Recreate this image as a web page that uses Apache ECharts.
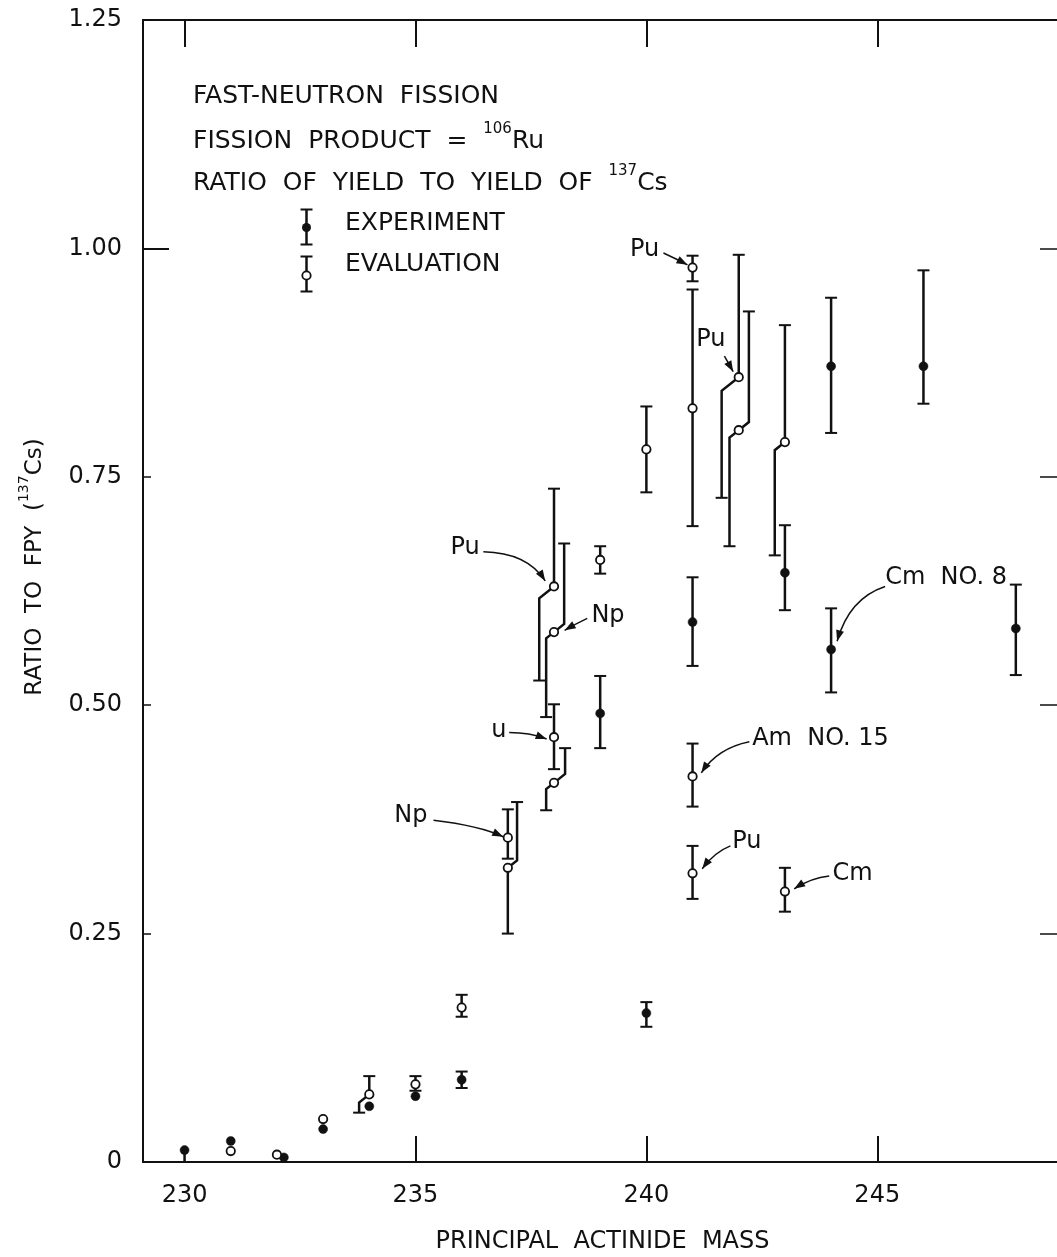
<!DOCTYPE html>
<html>
<head>
<meta charset="utf-8">
<script src="https://cdn.jsdelivr.net/npm/echarts@6/dist/echarts.min.js"></script>
<style>
  html, body { margin: 0; padding: 0; background: #fff; }
  #chart { width: 1057px; height: 1257px; }
</style>
</head>
<body>
<div id="chart"></div>
<script>
// experiment (filled dots)
const expMass  = [230, 231, 232.15, 233, 234, 235, 236, 239, 240, 241, 243, 244, 244, 246, 248];
const expValue = [0.013, 0.023, 0.005, 0.036, 0.061, 0.072, 0.090, 0.491, 0.163, 0.591, 0.645, 0.871, 0.561, 0.871, 0.584];
const expLow   = [0, null, null, null, null, null, 0.081, 0.453, 0.148, 0.543, 0.604, 0.798, 0.514, 0.830, 0.533];
const expHigh  = [null, null, null, null, null, null, 0.099, 0.532, 0.175, 0.640, 0.697, 0.946, 0.606, 0.976, 0.632];

// evaluation (open dots); shifts = sideways displacement of the bar ends, in mass units
const evalMass  = [231, 232, 233, 234, 235, 236, 237, 237, 238, 238, 238, 238, 239, 240, 241, 241, 241, 241, 242, 242, 243, 243];
const evalValue = [0.012, 0.008, 0.047, 0.074, 0.085, 0.169, 0.355, 0.322, 0.630, 0.580, 0.465, 0.415, 0.659, 0.780, 0.979, 0.825, 0.422, 0.316, 0.859, 0.801, 0.788, 0.296];
const evalLow   = [null, null, null, 0.054, 0.078, 0.159, 0.332, 0.250, 0.527, 0.487, 0.430, 0.385, 0.644, 0.733, 0.964, 0.696, 0.389, 0.288, 0.727, 0.674, 0.664, 0.274];
const evalHigh  = [null, null, null, 0.094, 0.094, 0.183, 0.386, 0.394, 0.737, 0.677, 0.501, 0.453, 0.674, 0.827, 0.992, 0.955, 0.458, 0.346, 0.993, 0.931, 0.916, 0.322];
const evalShiftLow  = [0, 0, 0, -0.22, 0, 0, 0, 0, -0.32, -0.17, 0, -0.17, 0, 0, 0, 0, 0, 0, -0.37, -0.2, -0.22, 0];
const evalShiftHigh = [0, 0, 0, 0, 0, 0, 0, 0.2, 0, 0.22, 0, 0.24, 0, 0, 0, 0, 0, 0, 0, 0.22, 0, 0];

const xTicks = [230, 235, 240, 245];

// nuclide labels with arrows: text anchor, arrow start, bend point, arrow tip (mass, ratio)
const notes = [
  {text: 'Pu', align: 'right', at: [240.28, 0.999], from: [240.37, 0.995], ctrl: [240.63, 0.989], to: [240.89, 0.982]},
  {text: 'Pu', align: 'left', at: [241.08, 0.900], from: [241.69, 0.882], ctrl: [241.78, 0.874], to: [241.88, 0.865]},
  {text: 'Pu', align: 'right', at: [236.39, 0.672], from: [236.47, 0.668], ctrl: [237.42, 0.667], to: [237.81, 0.636]},
  {text: 'Np', align: 'left', at: [238.81, 0.598], from: [238.72, 0.595], ctrl: [238.47, 0.589], to: [238.23, 0.582]},
  {text: 'u', align: 'right', at: [236.97, 0.472], from: [237.03, 0.470], ctrl: [237.47, 0.470], to: [237.84, 0.463]},
  {text: 'Np', align: 'right', at: [235.26, 0.379], from: [235.39, 0.374], ctrl: [236.39, 0.368], to: [236.90, 0.356]},
  {text: 'Cm  NO. 8', align: 'left', at: [245.17, 0.640], from: [245.17, 0.630], ctrl: [244.39, 0.617], to: [244.13, 0.570]},
  {text: 'Am  NO. 15', align: 'left', at: [242.29, 0.463], from: [242.23, 0.460], ctrl: [241.54, 0.453], to: [241.19, 0.426]},
  {text: 'Pu', align: 'left', at: [241.86, 0.350], from: [241.82, 0.346], ctrl: [241.47, 0.339], to: [241.21, 0.321]},
  {text: 'Cm', align: 'left', at: [244.03, 0.315], from: [243.96, 0.313], ctrl: [243.57, 0.311], to: [243.20, 0.299]}
];

const FONT = 'DejaVu Sans';
const INK = '#111';

function pick(a, i, v) { return a[i] == null ? v : a[i]; }

const expData = expMass.map((m, i) => [m, expValue[i], pick(expLow, i, expValue[i]), pick(expHigh, i, expValue[i]), 0, 0]);
const evalData = evalMass.map((m, i) => [m, evalValue[i], pick(evalLow, i, evalValue[i]), pick(evalHigh, i, evalValue[i]), evalShiftLow[i], evalShiftHigh[i]]);

function makeRender(filled) {
  return function (params, api) {
    const m = api.value(0), v = api.value(1), lo = api.value(2), hi = api.value(3);
    const sl = api.value(4), sh = api.value(5);
    const pc = api.coord([m, v]);
    const children = [];
    function bar(end, shift, dir) {
      if (end === v) return;
      const pe = api.coord([m + shift, end]);
      const dx = pe[0] - pc[0];
      const pts = [pc];
      if (Math.abs(dx) > 0.5) pts.push([pe[0], pc[1] + dir * Math.abs(dx) * 0.8]);
      pts.push(pe);
      children.push({type: 'polyline', shape: {points: pts}, style: {stroke: INK, lineWidth: 2.5, fill: null}});
      children.push({type: 'line', shape: {x1: pe[0] - 6, y1: pe[1], x2: pe[0] + 6, y2: pe[1]}, style: {stroke: INK, lineWidth: 2}});
    }
    bar(hi, sh, -1);
    bar(lo, sl, 1);
    children.push({
      type: 'circle',
      shape: {cx: pc[0], cy: pc[1], r: filled ? 4.5 : 4.2},
      style: {fill: filled ? INK : '#fff', stroke: INK, lineWidth: filled ? 0.5 : 1.8}
    });
    return {type: 'group', children: children};
  };
}

const chart = echarts.init(document.getElementById('chart'), null, {renderer: 'canvas'});

const axisLine = {show: true, onZero: false, lineStyle: {color: INK, width: 2}};
const labelStyle = {color: INK, fontFamily: FONT, fontSize: 24};
const supRich = {
  a: {fontFamily: FONT, fontSize: 25, lineHeight: 32, verticalAlign: 'bottom', fill: INK},
  s: {fontFamily: FONT, fontSize: 15, lineHeight: 32, verticalAlign: 'top', fill: INK}
};

const option = {
  animation: false,
  backgroundColor: '#fff',
  grid: {left: 143, right: -5, top: 20, bottom: 95, outerBoundsMode: 'none'},
  xAxis: [
    {
      type: 'value', min: 229.1, max: 249, position: 'bottom',
      axisLine: axisLine,
      axisTick: {show: true, inside: true, length: 26, customValues: [235, 240, 245], lineStyle: {color: INK, width: 2}},
      axisLabel: Object.assign({customValues: xTicks, margin: 22}, labelStyle),
      splitLine: {show: false},
      name: 'PRINCIPAL  ACTINIDE  MASS', nameLocation: 'middle', nameGap: 68,
      nameTextStyle: {color: INK, fontFamily: FONT, fontSize: 24}
    },
    {
      type: 'value', min: 229.1, max: 249, position: 'top',
      axisLine: axisLine,
      axisTick: {show: true, inside: true, length: 27, customValues: xTicks, lineStyle: {color: INK, width: 2}},
      axisLabel: {show: false}, splitLine: {show: false}
    }
  ],
  yAxis: [
    {
      type: 'value', min: 0, max: 1.25, interval: 0.25, position: 'left',
      axisLine: axisLine,
      axisTick: {show: true, inside: true, length: 8, lineStyle: {color: INK, width: 1.5}},
      axisLabel: Object.assign({margin: 21, formatter: v => v === 0 ? '0' : v.toFixed(2)}, labelStyle),
      splitLine: {show: false}
    },
    {
      type: 'value', min: 0, max: 1.25, interval: 0.25, position: 'right',
      axisLine: axisLine,
      axisTick: {show: true, inside: true, length: 22, lineStyle: {color: INK, width: 1.5}},
      axisLabel: {show: false}, splitLine: {show: false}
    },
    {
      type: 'value', min: 0, max: 1.25, interval: 0.25, position: 'left',
      axisLine: {show: false, onZero: false},
      axisTick: {show: true, inside: true, length: 26, customValues: [1.0], lineStyle: {color: INK, width: 2}},
      axisLabel: {show: false}, splitLine: {show: false}
    }
  ],
  graphic: [
    {
      type: 'text', x: 32, y: 567, rotation: Math.PI / 2,
      style: {
        text: '{n|RATIO  TO  FPY  (}{s|137}{n|Cs)}', align: 'center', verticalAlign: 'middle',
        rich: {
          n: {fontFamily: FONT, fontSize: 23, lineHeight: 30, verticalAlign: 'bottom', fill: INK},
          s: {fontFamily: FONT, fontSize: 14, lineHeight: 30, verticalAlign: 'top', fill: INK}
        }
      }
    },
    {
      type: 'text', left: 193, top: 84,
      style: {text: 'FAST-NEUTRON  FISSION', fill: INK, font: '25px "DejaVu Sans"'}
    },
    {
      type: 'text', left: 193, top: 122,
      style: {text: '{a|FISSION  PRODUCT  =  }{s|106}{a|Ru}', rich: supRich}
    },
    {
      type: 'text', left: 193, top: 164,
      style: {text: '{a|RATIO  OF  YIELD  TO  YIELD  OF  }{s|137}{a|Cs}', rich: supRich}
    },
    {type: 'text', left: 345, top: 211, style: {text: 'EXPERIMENT', fill: INK, font: '25px "DejaVu Sans"'}},
    {type: 'text', left: 345, top: 252, style: {text: 'EVALUATION', fill: INK, font: '25px "DejaVu Sans"'}},
    {
      type: 'group', left: 298, top: 207,
      children: [
        {type: 'line', shape: {x1: 7, y1: 1, x2: 7, y2: 36}, style: {stroke: INK, lineWidth: 2.5}},
        {type: 'line', shape: {x1: 1, y1: 1, x2: 13, y2: 1}, style: {stroke: INK, lineWidth: 2}},
        {type: 'line', shape: {x1: 1, y1: 36, x2: 13, y2: 36}, style: {stroke: INK, lineWidth: 2}},
        {type: 'circle', shape: {cx: 7, cy: 19, r: 4.5}, style: {fill: INK}}
      ]
    },
    {
      type: 'group', left: 298, top: 254,
      children: [
        {type: 'line', shape: {x1: 7, y1: 1, x2: 7, y2: 36}, style: {stroke: INK, lineWidth: 2.5}},
        {type: 'line', shape: {x1: 1, y1: 1, x2: 13, y2: 1}, style: {stroke: INK, lineWidth: 2}},
        {type: 'line', shape: {x1: 1, y1: 36, x2: 13, y2: 36}, style: {stroke: INK, lineWidth: 2}},
        {type: 'circle', shape: {cx: 7, cy: 20, r: 4.2}, style: {fill: '#fff', stroke: INK, lineWidth: 1.8}}
      ]
    }
  ],
  series: [
    {
      name: 'EXPERIMENT', type: 'custom', xAxisIndex: 0, yAxisIndex: 0,
      renderItem: makeRender(true), encode: {x: 0, y: 1}, data: expData, z: 3
    },
    {
      name: 'EVALUATION', type: 'custom', xAxisIndex: 0, yAxisIndex: 0,
      renderItem: makeRender(false), encode: {x: 0, y: 1}, data: evalData, z: 4
    }
  ]
};

chart.setOption(option);

// arrows and nuclide labels, placed through the axes
const P = p => chart.convertToPixel({xAxisIndex: 0, yAxisIndex: 0}, p);
const noteGraphics = [];
notes.forEach(function (n) {
  const a = P(n.at), f = P(n.from), c = P(n.ctrl), t = P(n.to);
  noteGraphics.push({
    type: 'text', x: a[0], y: a[1],
    style: {text: n.text, fill: INK, font: '24px "DejaVu Sans"', align: n.align, verticalAlign: 'middle'}
  });
  noteGraphics.push({
    type: 'bezierCurve',
    shape: {x1: f[0], y1: f[1], cpx1: c[0], cpy1: c[1], x2: t[0], y2: t[1]},
    style: {stroke: INK, lineWidth: 1.5, fill: null}
  });
  const ang = Math.atan2(t[1] - c[1], t[0] - c[0]);
  const L = 11, W = 4;
  const bx = t[0] - L * Math.cos(ang), by = t[1] - L * Math.sin(ang);
  noteGraphics.push({
    type: 'polygon',
    shape: {points: [[t[0], t[1]], [bx + W * Math.sin(ang), by - W * Math.cos(ang)], [bx - W * Math.sin(ang), by + W * Math.cos(ang)]]},
    style: {fill: INK}
  });
});
chart.setOption({graphic: option.graphic.concat(noteGraphics)});
</script>
</body>
</html>
